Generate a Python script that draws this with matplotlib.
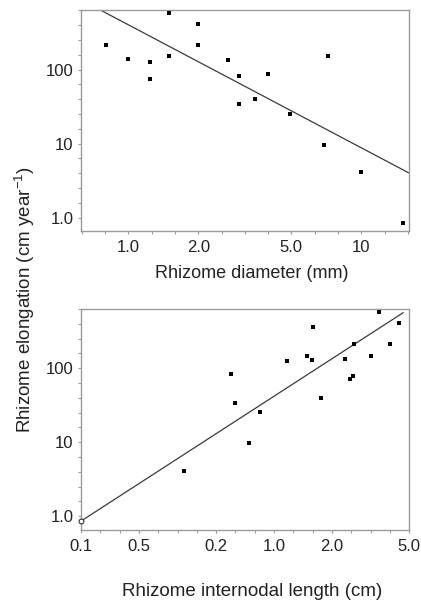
import numpy as np
import matplotlib
matplotlib.use("Agg")
import matplotlib.pyplot as plt
from matplotlib.ticker import FixedLocator, FixedFormatter, NullFormatter

plt.rcParams['font.family'] = ['Liberation Sans', 'DejaVu Sans']
plt.rcParams['mathtext.fontset'] = 'custom'
plt.rcParams['mathtext.rm'] = 'Liberation Sans'
plt.rcParams['mathtext.it'] = 'Liberation Sans:italic'

# Rhizome diameter (mm) vs elongation (cm/yr)
diam_mm = [0.80, 1.00, 1.24, 1.24, 1.49, 1.49, 1.99, 1.99, 2.69, 2.99,
           2.99, 3.49, 3.98, 4.94, 7.22, 6.91, 9.96, 15.1]
diam_elong = [216, 138, 128, 75, 577, 151, 409, 216, 134, 83,
              34.7, 40.6, 87, 25.4, 151, 9.7, 4.15, 0.855]

# Internodal length (cm) vs elongation (cm/yr)
intern_cm = [0.343, 0.597, 0.628, 0.744, 0.842, 1.17, 1.48, 1.58, 1.60,
             1.75, 2.33, 2.46, 2.56, 2.60, 3.18, 3.50, 3.97, 4.44]
intern_elong = [4.13, 84.5, 34.0, 9.64, 25.2, 124, 147, 129, 357,
                39.8, 134, 72.4, 79.5, 212, 148, 569, 212, 404]
intern_open_x = [0.1]
intern_open_y = [0.86]

# log-log regression lines: log10(y) = a + b*log10(x)
fit_diam = (2.607, -1.664)
fit_intern = (1.621, 1.688)
fit_intern_span = (0.1, 4.66)

x_top_lim = (0.627, 16.0)
x_bot_lim = (0.1, 5.0)
y_lim = (0.66, 640)

top_xticks = [1, 2, 5, 10]
top_xlabels = ['1.0', '2.0', '5.0', '10']
bot_xticks = [0.1, 0.2, 0.5, 1, 2, 5]
bot_xlabels = ['0.1', '0.5', '0.2', '1.0', '2.0', '5.0']
yticks = [1, 10, 100]
ylabels = ['1.0', '10', '100']

W, H = 421, 603
fig = plt.figure(figsize=(W / 100, H / 100), dpi=100)
ax1 = fig.add_axes([81 / W, 1 - 231 / H, 328 / W, 221 / H])
ax2 = fig.add_axes([81 / W, 1 - 529.5 / H, 328 / W, 221 / H])

spine_c = '#9a9a9a'
text_c = '#222222'
line_c = '#3a3a3a'


def style(ax, xlim, xticks, xlabels):
    ax.set_xscale('log')
    ax.set_yscale('log')
    ax.set_xlim(*xlim)
    ax.set_ylim(*y_lim)
    for s in ax.spines.values():
        s.set_color(spine_c)
        s.set_linewidth(1.0)
    lx0, lx1 = np.log10(xlim)
    xminor = 10 ** (np.arange(np.ceil(lx0 * 10), np.floor(lx1 * 10) + 1) / 10)
    ly0, ly1 = np.log10(y_lim)
    yminor = 10 ** (np.arange(np.ceil(ly0 * 5), np.floor(ly1 * 5) + 1) / 5)
    ax.xaxis.set_major_locator(FixedLocator(xticks))
    ax.xaxis.set_major_formatter(FixedFormatter(xlabels))
    ax.xaxis.set_minor_locator(FixedLocator(xminor))
    ax.xaxis.set_minor_formatter(NullFormatter())
    ax.yaxis.set_major_locator(FixedLocator(yticks))
    ax.yaxis.set_major_formatter(FixedFormatter(ylabels))
    ax.yaxis.set_minor_locator(FixedLocator(yminor))
    ax.yaxis.set_minor_formatter(NullFormatter())
    ax.tick_params(which='both', direction='out', length=2.5, width=0.8,
                   color=spine_c, labelcolor=text_c, labelsize=12,
                   top=False, right=False)
    ax.tick_params(axis='x', which='major', pad=4)
    ax.tick_params(axis='y', which='major', pad=3)


style(ax1, x_top_lim, top_xticks, top_xlabels)
style(ax2, x_bot_lim, bot_xticks, bot_xlabels)

# top panel
xx = np.logspace(np.log10(x_top_lim[0]), np.log10(x_top_lim[1]), 50)
ax1.plot(xx, 10 ** (fit_diam[0] + fit_diam[1] * np.log10(xx)),
         color=line_c, lw=0.9)
ax1.scatter(diam_mm, diam_elong, marker='s', s=9, color='black',
            zorder=3, clip_on=False, linewidths=0)

# bottom panel
xx = np.logspace(np.log10(fit_intern_span[0]), np.log10(fit_intern_span[1]), 50)
ax2.plot(xx, 10 ** (fit_intern[0] + fit_intern[1] * np.log10(xx)),
         color=line_c, lw=0.9, clip_on=False)
ax2.scatter(intern_cm, intern_elong, marker='s', s=9, color='black',
            zorder=3, clip_on=False, linewidths=0)
ax2.scatter(intern_open_x, intern_open_y, marker='o', s=12,
            facecolor='white', edgecolor='#333333', linewidths=0.8,
            zorder=4, clip_on=False)

fig.text(252 / W, 1 - 273 / H, 'Rhizome diameter (mm)', ha='center',
         va='center', fontsize=13, color=text_c)
fig.text(252 / W, 1 - 591 / H, 'Rhizome internodal length (cm)',
         ha='center', va='center', fontsize=13.5, color=text_c)
fig.text(25 / W, 1 - 300 / H, 'Rhizome elongation (cm year$^{\\mathregular{-1}}$)',
         ha='center', va='center', rotation=90, fontsize=13.5, color=text_c)

fig.savefig('out.png', dpi=100, facecolor='white')
